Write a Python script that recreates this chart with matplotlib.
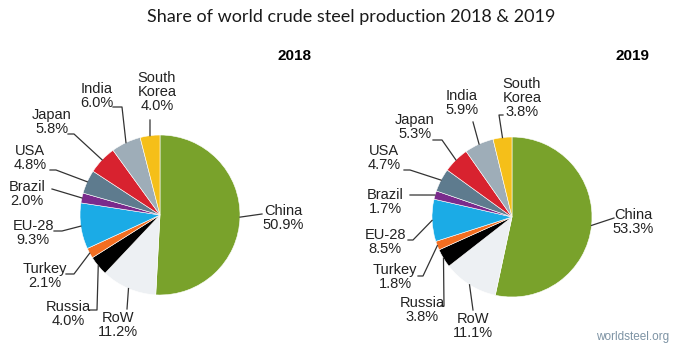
import matplotlib

matplotlib.use("Agg")
import matplotlib.pyplot as plt  # noqa: E402
import numpy as np  # noqa: E402

countries = ["China", "RoW", "Russia", "Turkey", "EU-28", "Brazil", "USA", "Japan", "India", "South Korea"]
share_2018 = [50.9, 11.2, 4.0, 2.1, 9.3, 2.0, 4.8, 5.8, 6.0, 4.0]
share_2019 = [53.3, 11.1, 3.8, 1.8, 8.5, 1.7, 4.7, 5.3, 5.9, 3.8]
colors = ["#79A22B", "#EDF0F3", "#000000", "#F36E21", "#1BABE6",
          "#7A2A8C", "#5E7B8E", "#D8222F", "#9EADB8", "#F5BF19"]

W, H = 690, 363

# label layout in pixel coords (y down): text centre, leader start, optional elbow
layout_2018 = {
    "China": ((283, 218), (262, 214), None),
    "RoW": ((118, 325), (127, 309), None),
    "Russia": ((68, 314), (89, 310), (97, 310)),
    "Turkey": ((45, 276), (66, 274), (74, 274)),
    "EU-28": ((33, 233), (54, 231), (62, 231)),
    "Brazil": ((27, 194), (52, 189), None),
    "USA": ((30, 158), (50, 170), (56, 170)),
    "Japan": ((52, 122), (68, 134), (74, 134)),
    "India": ((97, 96), (113, 107), (122, 107)),
    "South Korea": ((157, 92), (150, 120), None),
}
layout_2019 = {
    "China": ((633, 222), (614, 218), None),
    "RoW": ((473, 326), (473, 310), None),
    "Russia": ((422, 310), (441, 306), (444, 306)),
    "Turkey": ((395, 277), (418, 276), (423, 276)),
    "EU-28": ((385, 242), (408, 240), (413, 240)),
    "Brazil": ((385, 202), (410, 195), None),
    "USA": ((384, 158), (404, 170), (410, 170)),
    "Japan": ((415, 127), (433, 140), (442, 140)),
    "India": ((462, 103), (473, 122), None),
    "South Korea": ((522, 98), (503, 115), (499, 115)),
}


def px(x, y):
    return x, H - y


def draw_pie(ax, values, center, layout, year, year_xy):
    wedges, _ = ax.pie(values, colors=colors, startangle=90, counterclock=False,
                       center=px(*center), radius=80,
                       wedgeprops=dict(edgecolor="white", linewidth=0.4))
    for name, val, w in zip(countries, values, wedges):
        txt_xy, start, elbow = layout[name]
        label = name.replace(" ", "\n") + f"\n{val:.1f}%"
        ax.text(*px(*txt_xy), label, ha="center", va="center", fontsize=10.5,
                family="Liberation Sans", color="#222222", linespacing=0.98)
        mid = np.deg2rad((w.theta1 + w.theta2) / 2)
        cx, cy = w.center
        end = (cx + w.r * np.cos(mid), cy + w.r * np.sin(mid))
        pts = [px(*start)]
        if elbow is not None:
            pts.append(px(*elbow))
        pts.append(end)
        xs, ys = zip(*pts)
        ax.plot(xs, ys, color="#333333", lw=0.9)
    ax.text(*px(*year_xy), year, ha="center", va="center", fontsize=11,
            fontweight="bold", family="Liberation Sans")


fig = plt.figure(figsize=(W / 100, H / 100), dpi=100)
ax = fig.add_axes([0, 0, 1, 1])
draw_pie(ax, share_2018, (160, 215), layout_2018, "2018", (295, 56))
draw_pie(ax, share_2019, (512, 217), layout_2019, "2019", (633, 56))
ax.set_aspect("auto")
ax.set_xlim(0, W)
ax.set_ylim(0, H)
ax.axis("off")

ax.text(*px(351, 17), "Share of world crude steel production 2018 & 2019",
        ha="center", va="center", fontsize=13, family="Lato", color="#1a1a1a")
ax.text(*px(633, 337), "worldsteel.org", ha="center", va="center", fontsize=8.5,
        family="Liberation Sans", color="#7D93A4")

fig.savefig("out.png", dpi=100)
plt.close(fig)
